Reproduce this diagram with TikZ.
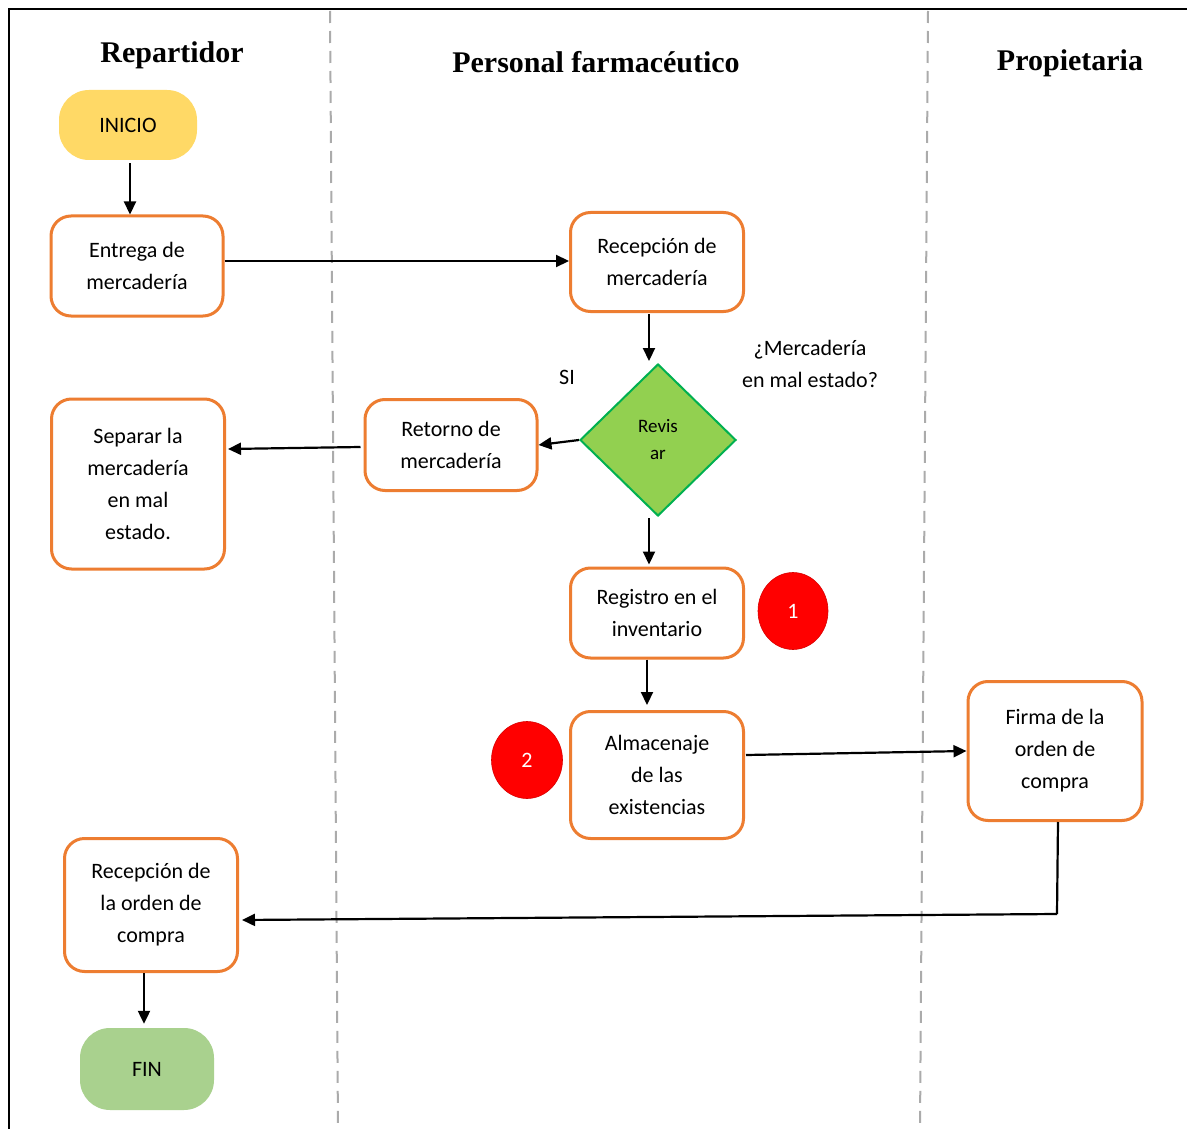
\documentclass[tikz,border=0pt]{standalone}
\usepackage{fontspec}
\setmainfont{Carlito}
\newfontfamily\headfont{Liberation Serif}
\usetikzlibrary{arrows.meta,shapes.geometric,calc}
\definecolor{boxorange}{HTML}{ED7D31}
\definecolor{startyellow}{HTML}{FFD966}
\definecolor{endgreen}{HTML}{A9D18E}
\definecolor{diagreen}{HTML}{92D050}
\definecolor{diaborder}{HTML}{00B050}
\definecolor{lanegray}{HTML}{ABABAB}
\begin{document}
\begin{tikzpicture}[x=1pt,y=-1pt,
  every node/.style={font=\fontsize{22}{32}\selectfont},
  procbox/.style={draw=boxorange,line width=3pt,rounded corners=20pt,fill=white,
    align=center,inner sep=0pt},
  terminal/.style={rounded corners=30pt,align=center,inner sep=0pt},
  decision/.style={diamond,draw=diaborder,line width=2pt,fill=diagreen,inner sep=0pt,
    align=center,font=\fontsize{19}{27}\selectfont},
  marker/.style={ellipse,fill=red,draw=red!85!black,line width=0.6pt,inner sep=0pt,
    text=white,font=\fontsize{22}{25}\selectfont},
  heading/.style={font=\headfont\bfseries\fontsize{30}{34}\selectfont},
  lane/.style={draw=lanegray,line width=2pt,dash pattern=on 12pt off 8pt},
  arr/.style={draw=black,line width=2.2pt,-{Triangle[length=13pt,width=12pt]}},
  plain/.style={draw=black,line width=2.2pt}
]
\useasboundingbox (0,0) rectangle (1187,1129);
\fill[white] (0,0) rectangle (1187,1129);

% frame and swimlane separators
\draw[line width=2.5pt] (9,1129) -- (9,9) -- (1187,9);
\draw[lane] (330,11) -- (338,1129);
\draw[lane] (928,11) -- (920,1129);

% lane titles
\node[heading] (h1) at (172,55) {Repartidor};
\node[heading] (h2) at (596,62) {Personal farmacéutico};
\node[heading] (h3) at (1070,63) {Propietaria};

% flow elements
\node[terminal,fill=startyellow,minimum width=138pt,minimum height=70pt] (ini) at (128,125) {INICIO};
\node[procbox,minimum width=172pt,minimum height=100pt] (ent) at (137,266) {Entrega de\\mercadería};
\node[procbox,minimum width=173pt,minimum height=99pt] (rec) at (657,262) {Recepción de\\mercadería};
\node[decision,minimum width=156pt,minimum height=152pt] (rev) at (658,440) {Revis\\ar};
\node[procbox,minimum width=172pt,minimum height=91pt] (ret) at (451,445) {Retorno de\\mercadería};
\node[procbox,minimum width=173pt,minimum height=170pt] (sep) at (138,484) {Separar la\\mercadería\\en mal\\estado.};
\node[procbox,minimum width=173pt,minimum height=90pt] (reg) at (657,613) {Registro en el\\inventario};
\node[marker,minimum width=70pt,minimum height=77pt] (m1) at (793,611) {1};
\node[procbox,minimum width=173pt,minimum height=127pt] (alm) at (657,775) {Almacenaje\\de las\\existencias};
\node[marker,minimum width=71pt,minimum height=77pt] (m2) at (527,760) {2};
\node[procbox,minimum width=174pt,minimum height=139pt] (fir) at (1055,751) {Firma de la\\orden de\\compra};
\node[procbox,minimum width=173pt,minimum height=133pt] (ord) at (151,905) {Recepción de\\la orden de\\compra};
\node[terminal,fill=endgreen,minimum width=134pt,minimum height=82pt] (fin) at (147,1069) {FIN};

% annotations
\node (si) at (567,377) {SI};
\node[align=center] (q) at (810,364) {¿Mercadería\\en mal estado?};

% connectors (yshift is measured upward on the page)
\draw[arr] ([xshift=2pt,yshift=-3pt]ini.south) -- ([xshift=-7pt]ent.north);
\draw[arr] ([yshift=5pt]ent.east) -- ([yshift=1pt]rec.west);
\draw[arr] ([xshift=-8pt,yshift=-1pt]rec.south) -- ([xshift=-9pt,yshift=2pt]rev.north);
\draw[arr] (rev.west) -- (ret.east);
\draw[arr] ([xshift=-3pt,yshift=-2pt]ret.west) -- ([xshift=2pt,yshift=35pt]sep.east);
\draw[arr] ([xshift=-9pt,yshift=-1pt]rev.south) -- ([xshift=-8pt,yshift=2pt]reg.north);
\draw[arr] ([xshift=-10pt]reg.south) -- ([xshift=-10pt,yshift=5pt]alm.north);
\draw[arr] ([xshift=1pt,yshift=20pt]alm.east) -- (fir.west);
\coordinate (bend) at (1057,914);
\draw[plain] ([xshift=3pt]fir.south) -- (bend);
\draw[arr] (bend) -- ([xshift=3pt,yshift=-15pt]ord.east);
\draw[arr] ([xshift=-7pt]ord.south) -- ([xshift=-3pt,yshift=4pt]fin.north);
\end{tikzpicture}
\end{document}
